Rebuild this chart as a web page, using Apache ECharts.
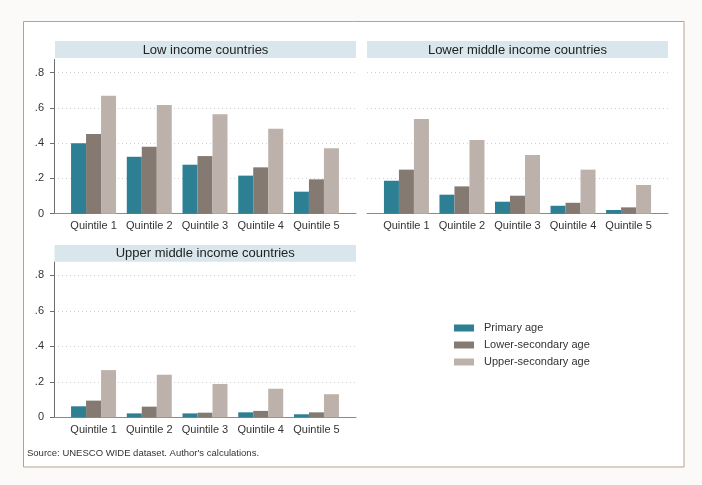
<!DOCTYPE html>
<html>
<head>
<meta charset="utf-8">
<script src="https://cdn.jsdelivr.net/npm/echarts@6/dist/echarts.min.js"></script>
<style>
html,body{margin:0;padding:0;background:#fbfaf8;}
#chart{width:702px;height:485px;}
</style>
</head>
<body>
<div id="chart"></div>
<script>
const categories = ['Quintile 1', 'Quintile 2', 'Quintile 3', 'Quintile 4', 'Quintile 5'];
const panelTitles = ['Low income countries', 'Lower middle income countries', 'Upper middle income countries'];
const seriesNames = ['Primary age', 'Lower-secondary age', 'Upper-secondary age'];
const yTicks = [0, 0.2, 0.4, 0.6, 0.8];
const yTickLabels = ['0', '.2', '.4', '.6', '.8'];

const lowPrimary = [0.400, 0.323, 0.278, 0.216, 0.125];
const lowLowerSec = [0.452, 0.380, 0.327, 0.263, 0.195];
const lowUpperSec = [0.670, 0.617, 0.564, 0.482, 0.371];

const lmPrimary = [0.187, 0.108, 0.068, 0.045, 0.021];
const lmLowerSec = [0.250, 0.155, 0.102, 0.062, 0.036];
const lmUpperSec = [0.537, 0.418, 0.333, 0.250, 0.163];

const umPrimary = [0.062, 0.022, 0.022, 0.028, 0.017];
const umLowerSec = [0.094, 0.060, 0.026, 0.036, 0.028];
const umUpperSec = [0.266, 0.240, 0.188, 0.161, 0.130];

const panelData = [
  [lowPrimary, lowLowerSec, lowUpperSec],
  [lmPrimary, lmLowerSec, lmUpperSec],
  [umPrimary, umLowerSec, umUpperSec]
];

const colors = ['#2d7f93', '#857a72', '#bcb2ab'];
const FONT = 'Liberation Sans, Arial, sans-serif';
const gridBoxes = [
  {left: 54, top: 59.5, width: 302, height: 154.2},
  {left: 367, top: 59.5, width: 301, height: 154.2},
  {left: 54, top: 262, width: 302, height: 155.3}
];
const strips = [
  {x: 55, y: 41, w: 301, h: 17},
  {x: 367, y: 41, w: 301, h: 17},
  {x: 54.5, y: 245, w: 301.5, h: 16.7}
];

const chart = echarts.init(document.getElementById('chart'), null, {renderer: 'canvas'});

const grids = gridBoxes.map(g => Object.assign({containLabel: false}, g));
const xAxes = gridBoxes.map((g, i) => ({
  type: 'value', gridIndex: i, min: -0.71, max: 4.71,
  axisLine: {show: true, onZero: false, lineStyle: {color: '#8a8a8a', width: 1}},
  axisTick: {show: false},
  splitLine: {show: false},
  axisLabel: {
    show: true, customValues: [0, 1, 2, 3, 4], margin: 7,
    color: '#333', fontSize: 11, fontFamily: FONT,
    formatter: v => categories[Math.round(v)] || ''
  }
}));
const gridColor = '#cfcfcf';
const yAxes = gridBoxes.map((g, i) => ({
  type: 'value', gridIndex: i, min: 0, max: 0.875, interval: 0.2,
  axisLine: {show: i !== 1, onZero: false, lineStyle: {color: '#6e6e6e', width: 1}},
  axisTick: {show: i !== 1, length: 4, customValues: yTicks, lineStyle: {color: '#6e6e6e'}},
  axisLabel: {
    show: i !== 1, customValues: yTicks, margin: 10,
    color: '#333', fontSize: 11, fontFamily: FONT,
    formatter: v => {
      const k = yTicks.findIndex(t => Math.abs(t - v) < 1e-6);
      return k >= 0 ? yTickLabels[k] : '';
    }
  },
  splitLine: {
    show: true,
    lineStyle: {color: ['rgba(0,0,0,0)', gridColor, gridColor, gridColor, gridColor, 'rgba(0,0,0,0)'], type: [1, 3], width: 1}
  }
}));

const series = [];
panelData.forEach((arrs, p) => {
  arrs.forEach((vals, s) => {
    series.push({
      name: seriesNames[s], type: 'bar', xAxisIndex: p, yAxisIndex: p,
      barWidth: 15, barGap: '0%',
      itemStyle: {color: colors[s]},
      emphasis: {disabled: true},
      data: vals.map((v, i) => [i, v])
    });
  });
});

const graphics = [
  {type: 'rect', z: -10, shape: {x: 23.5, y: 21.5, width: 660.5, height: 445.5},
   style: {fill: '#ffffff', stroke: '#b5a28e', lineWidth: 1}}
];
strips.forEach((s, i) => {
  graphics.push({type: 'rect', z: 1, shape: {x: s.x, y: s.y, width: s.w, height: s.h},
    style: {fill: '#d9e6ec'}});
  graphics.push({type: 'text', z: 2, x: s.x + s.w / 2, y: s.y + s.h / 2 + 0.5,
    style: {text: panelTitles[i], fill: '#222', font: '13px ' + FONT, textAlign: 'center', textVerticalAlign: 'middle'}});
});
graphics.push({type: 'text', z: 2, x: 27, y: 453,
  style: {text: "Source: UNESCO WIDE dataset. Author's calculations.", fill: '#333', font: '9.5px ' + FONT, textVerticalAlign: 'middle'}});

chart.setOption({
  animation: false,
  backgroundColor: '#fbfaf8',
  grid: grids,
  xAxis: xAxes,
  yAxis: yAxes,
  legend: {
    orient: 'vertical', left: 449, top: 317.5,
    itemWidth: 20, itemHeight: 7, itemGap: 6, icon: 'rect',
    data: seriesNames,
    textStyle: {color: '#333', fontSize: 11, fontFamily: FONT, padding: [0, 0, 0, 5]}
  },
  graphic: graphics,
  series: series
});
</script>
</body>
</html>
